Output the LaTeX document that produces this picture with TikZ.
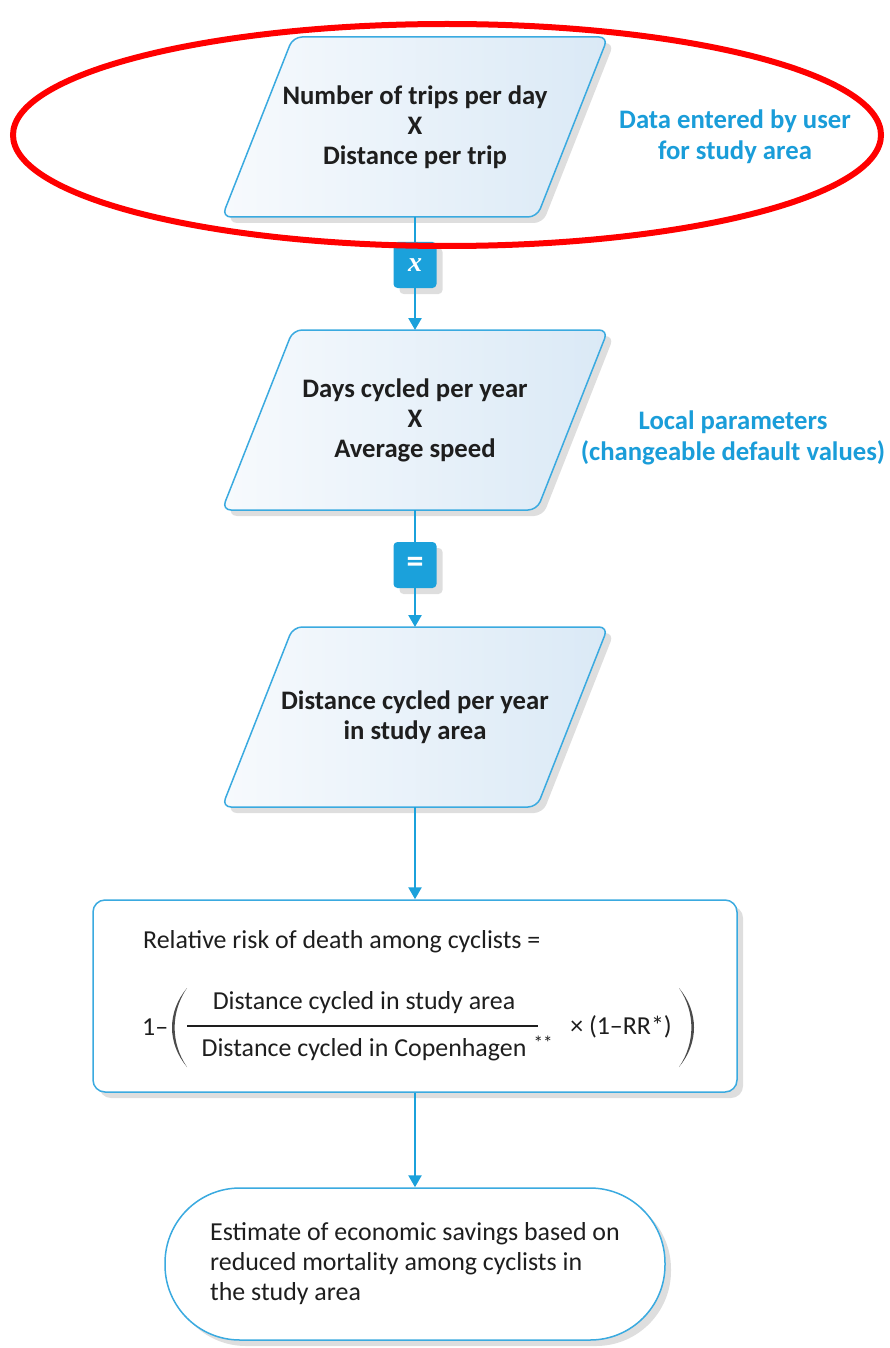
\documentclass[tikz,border=0pt]{standalone}
\usepackage{fontspec}
\setmainfont{Carlito}
\newfontfamily\serifx{Liberation Serif}
\usetikzlibrary{arrows.meta,shadows,backgrounds,shapes.geometric}
\definecolor{cblue}{HTML}{1BA1DB}
\definecolor{lblue}{HTML}{3AAAE0}
\definecolor{tblue}{HTML}{1A9DD9}
\definecolor{pleft}{HTML}{F7FAFD}
\definecolor{pright}{HTML}{DAE9F6}
\definecolor{txt}{HTML}{1E1E1E}
\begin{document}
\begin{tikzpicture}[x=1pt,y=-1pt,
  shadowed/.style={drop shadow={shadow xshift=6pt,shadow yshift=-6pt,opacity=0.13,fill=black}},
  para/.style={rectangle,minimum width=386pt,minimum height=180pt,inner sep=0pt,outer sep=0pt,
    align=center,font=\fontsize{26.7}{30}\selectfont\bfseries,text=txt},
  parashape/.style={draw=lblue,line width=1.5pt,rounded corners=9pt,
    left color=pleft,right color=pright,shadowed},
  opbox/.style={fill=cblue,rounded corners=4pt,minimum width=43pt,minimum height=46pt,
    inner sep=0pt,text=white,shadowed},
  flow/.style={draw=cblue,line width=2.5pt},
  arr/.style={flow,-{Triangle[width=13pt,length=12pt]}},
  note/.style={text=tblue,font=\fontsize{26.7}{31}\selectfont\bfseries,align=center},
  body/.style={text=txt,font=\fontsize{25.9}{30}\selectfont},
  frame/.style={draw=lblue,line width=1.5pt,fill=white,shadowed},
  paren/.style={fill=txt!80}
]
\useasboundingbox (0,0) rectangle (889,1348);

\node[para] (p1) at (415,127) {Number of trips per day\\X\\Distance per trip};
\node[note] (n1) at (735,137) {Data entered by user\\for study area};
\node[opbox,font=\fontsize{28}{28}\selectfont\serifx\bfseries\itshape] (xbox) at (415,265) {x};
\node[para] (p2) at (415,420) {Days cycled per year\\X\\Average speed};
\node[note] (n2) at (733,438) {Local parameters\\(changeable default values)};
\node[opbox,font=\fontsize{34}{34}\selectfont\bfseries] (eqbox) at (415,565) {=};
\node[para] (p3) at (415,717) {\rule{0pt}{10pt}Distance cycled per year\\in study area};

\node[frame,rounded corners=12pt,minimum width=644pt,minimum height=192pt] (box) at (415,996) {};
\node[body,anchor=west,inner sep=0pt] (rrt) at (143,942) {Relative risk of death among cyclists =};
\node[body,anchor=west,inner sep=0pt] (one) at (142,1027) {1–};
\node[body] (num) at (364,1003) {Distance cycled in study area};
\node[body] (den) at (364,1050) {Distance cycled in Copenhagen};
\node[body,font=\fontsize{19}{19}\selectfont] (stars) at (543,1043) {**};
\node[body] (rr) at (621,1027) {× (1–RR*)};
\draw[txt,line width=1.3pt] (187,1026) -- (538,1026);
\fill[paren] (187,988) .. controls (167,1012) and (167,1043) .. (187,1067)
  .. controls (170.5,1043) and (170.5,1012) .. (187,988) -- cycle;
\fill[paren] (679,988) .. controls (699,1012) and (699,1043) .. (679,1067)
  .. controls (695.5,1043) and (695.5,1012) .. (679,988) -- cycle;

\node[frame,rounded corners=75pt,minimum width=500pt,minimum height=152pt,body,align=left]
  (est) at (415,1264) {Estimate of economic savings based on\\reduced mortality among cyclists in\\the study area};

\begin{scope}[on background layer]
  \fill[white] (0,0) rectangle (889,1348);
  \foreach \n in {p1,p2,p3}
    \path[parashape] ([xshift=71pt]\n.north west) -- (\n.north east)
      -- ([xshift=-71pt]\n.south east) -- (\n.south west) -- cycle;
\end{scope}

\draw[flow] (p1.south) -- (xbox.north);
\draw[arr] (xbox.south) -- (p2.north);
\draw[flow] (p2.south) -- (eqbox.north);
\draw[arr] (eqbox.south) -- (p3.north);
\draw[arr] (p3.south) -- (box.north);
\draw[arr] (box.south) -- (est.north);

\node[ellipse,draw=red,line width=6pt,minimum width=868pt,minimum height=222pt,inner sep=0pt] (ring) at (447,135) {};
\end{tikzpicture}
\end{document}
